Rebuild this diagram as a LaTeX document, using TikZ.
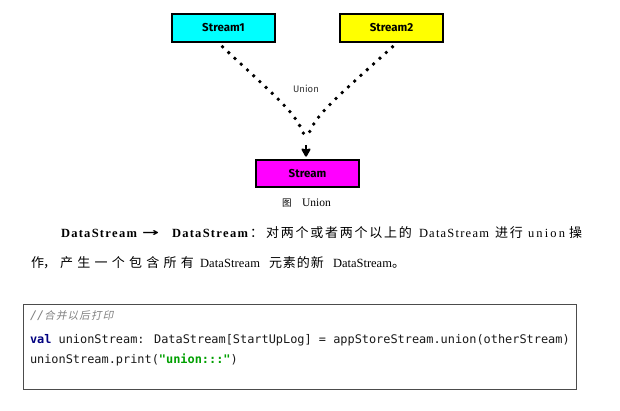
\documentclass[tikz,border=0pt]{standalone}
\usepackage{graphicx}
\usepackage{fontspec}
\usetikzlibrary{arrows.meta}
\setmainfont{Liberation Serif}
\newfontfamily\cjk{Noto Sans CJK SC}
\newfontfamily\cjkit[FakeSlant=0.2]{Noto Sans CJK SC}
\newfontfamily\codefont{DejaVu Sans Mono}
\newfontfamily\handfont{Fira Sans}
\newfontfamily\arrowfont{DejaVu Sans}
\definecolor{cyanbox}{HTML}{00FFFF}
\definecolor{yellowbox}{HTML}{FFFF00}
\definecolor{magentabox}{HTML}{FF00FF}
\definecolor{valblue}{HTML}{000080}
\definecolor{strgreen}{HTML}{00A000}
\definecolor{cmtgray}{HTML}{808080}
\definecolor{codeblack}{HTML}{1A1A1A}
\newcommand\spr[2]{\makebox[#1][s]{\sprA#2\relax}}
\def\sprA#1{#1\sprB}
\def\sprB#1{\ifx#1\relax\else\hfil#1\expandafter\sprB\fi}
\tikzset{
  sbox/.style={draw=black, line width=1.7pt, minimum width=103pt, minimum height=28pt, inner sep=0pt,
    font=\handfont\bfseries\fontsize{11.5}{13}\selectfont},
  dotline/.style={line width=3.8pt, line cap=round, dash pattern=on 0pt off 8.5pt},
  txt/.style={anchor=base west, inner sep=0pt, outer sep=0pt},
  lat/.style={txt, font=\fontsize{12.5}{15}\selectfont},
  latb/.style={txt, font=\bfseries\fontsize{12.5}{15}\selectfont},
  han/.style={txt, font=\cjk\fontsize{13}{15}\selectfont},
  code/.style={txt, text=codeblack, font=\codefont\fontsize{11.9}{14}\selectfont},
}
\begin{document}
\begin{tikzpicture}[x=1pt,y=1pt]
\useasboundingbox[fill=white] (0,0) rectangle (620,-411);
% diagram
\node[sbox, fill=cyanbox] (s1) at (223.5,-28) {Stream1};
\node[sbox, fill=yellowbox] (s2) at (391.5,-28) {Stream2};
\node[sbox, fill=magentabox, minimum height=27pt] (s) at (307.5,-173.5) {Stream};
\coordinate (m) at (306,-139);
\coordinate (t) at (306,-145);
\draw[dotline] (s1.south) ++(-1,-4) .. controls (295,-114) .. (m);
\draw[dotline] (s2.south) ++(1,-4) .. controls (318,-114) .. (m);
\draw[line width=2pt, -{Stealth[length=10pt,width=11pt,inset=2pt,round]}, shorten >=2.5pt] (t) -- (s.north -| t);
\node[inner sep=0pt, text=black!80, font=\handfont\fontsize{9.5}{11}\selectfont] (ul) at (306,-89) {Union};
% caption
\node[txt, font=\cjk\fontsize{9.5}{11}\selectfont] (cap1) at (282,-207) {图};
\node[txt, font=\fontsize{11.5}{13}\selectfont] (cap2) at (302,-207) {Union};
% paragraph line 1
\node[latb] (a1) at (61,-238) {\spr{76pt}{DataStream}};
\node[inner sep=0pt] (a2) at (150.5,-234) {\resizebox{17pt}{6pt}{\arrowfont\bfseries →}};
\node[latb] (a3) at (172,-238) {\spr{76pt}{DataStream}};
\node[han] (a4) at (250,-238) {：};
\node[han] (a5) at (266,-238) {\spr{146pt}{对两个或者两个以上的}};
\node[lat] (a6) at (419,-238) {\spr{70pt}{DataStream}};
\node[han] (a7) at (495,-238) {\spr{28pt}{进行}};
\node[lat] (a8) at (528,-238) {\spr{37pt}{union}};
\node[han] (a9) at (569,-238) {操};
% paragraph line 2
\node[han] (b1) at (31,-267) {作};
\node[han] (b2) at (43,-267) {，};
\node[han] (b3) at (60,-267) {\spr{134pt}{产生一个包含所有}};
\node[lat] (b4) at (200,-267) {\spr{60pt}{DataStream}};
\node[han] (b5) at (269,-267) {\spr{55pt}{元素的新}};
\node[lat] (b6) at (333,-267) {\spr{59pt}{DataStream}};
\node[han] (b7) at (392,-267) {。};
% code box
\draw[draw=black!70, line width=0.9pt] (23,-304.5) rectangle (576,-389);
\node[code, text=cmtgray] (c1) at (30,-319) {\itshape //{\cjkit\fontsize{10.5}{12}\selectfont\spr{69pt}{合并以后打印}}};
\node[code] (c2) at (30,-343) {{\bfseries\color{valblue}val} unionStream: DataStream[StartUpLog] = appStoreStream.union(otherStream)};
\node[code] (c3) at (30,-363) {unionStream.print({\bfseries\color{strgreen}"union:::"})};
\end{tikzpicture}
\end{document}
